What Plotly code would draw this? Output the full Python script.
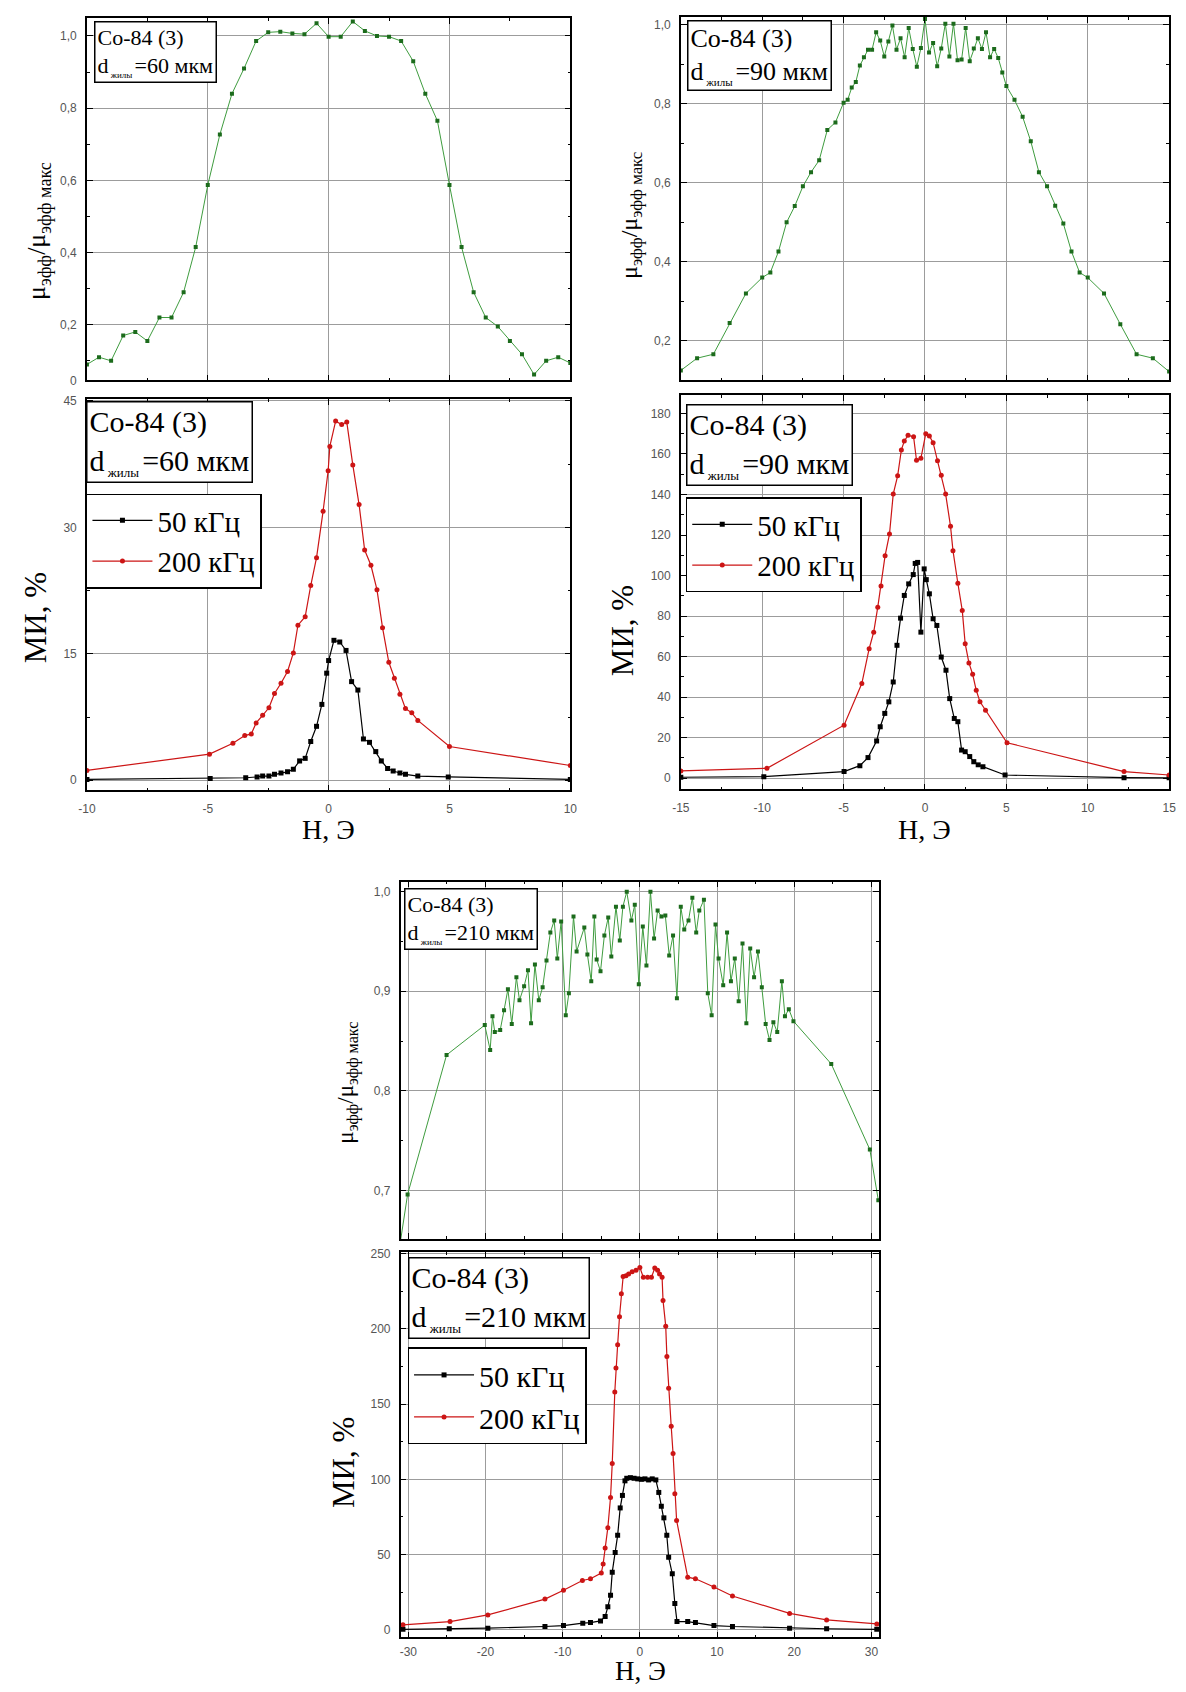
import plotly.graph_objects as go

W, H = 1186, 1692
SERIF = "Liberation Serif, Times New Roman, serif"
SANS = "Liberation Sans, Arial, sans-serif"

# ---------------- data ----------------
# Panel A: mu_eff / mu_eff max, d = 60 um
A_H = [-10, -9.5, -9.0, -8.5, -8.0, -7.5, -7.0, -6.5, -6.0, -5.5,
       -5.0, -4.5, -4.0, -3.5, -3.0, -2.5, -2.0, -1.5, -1.0, -0.5,
       0.0, 0.5, 1.0, 1.5, 2.0, 2.5, 3.0, 3.5, 4.0, 4.5,
       5.0, 5.5, 6.0, 6.5, 7.0, 7.5, 8.0, 8.5, 9.0, 9.5, 10.0]
A_MU = [0.09, 0.11, 0.10, 0.17, 0.18, 0.155, 0.22, 0.22, 0.29, 0.415,
        0.587, 0.727, 0.84, 0.91, 0.986, 1.01, 1.012, 1.007, 1.005, 1.035,
        0.998, 0.998, 1.04, 1.014, 1.0, 0.998, 0.986, 0.93, 0.84, 0.765,
        0.587, 0.415, 0.29, 0.22, 0.195, 0.155, 0.118, 0.062, 0.10, 0.11, 0.094]

# Panel B: MI %, d = 60 um
B_50_H = [-10, -4.9, -3.43, -2.96, -2.73, -2.47, -2.24, -1.97, -1.7, -1.46,
          -1.2, -0.97, -0.74, -0.5, -0.28, -0.08, 0.0, 0.22, 0.46, 0.72,
          0.95, 1.21, 1.44, 1.69, 1.95, 2.18, 2.44, 2.67, 2.95, 3.18,
          3.69, 4.95, 10.0]
B_50_MI = [0.1, 0.2, 0.3, 0.4, 0.5, 0.5, 0.7, 0.85, 1.0, 1.3,
           2.3, 2.6, 4.6, 6.4, 9.0, 12.7, 14.2, 16.6, 16.4, 15.4,
           11.7, 10.7, 4.9, 4.5, 3.4, 2.3, 1.4, 1.1, 0.86, 0.7,
           0.5, 0.4, 0.1]
B_200_H = [-10, -4.93, -3.96, -3.47, -3.2, -3.0, -2.73, -2.47, -2.24, -1.97,
           -1.7, -1.46, -1.27, -0.97, -0.74, -0.5, -0.23, -0.02, 0.05, 0.29,
           0.54, 0.75, 1.0, 1.26, 1.49, 1.75, 2.0, 2.23, 2.49, 2.72,
           2.95, 3.18, 3.44, 3.69, 5.0, 10.0]
B_200_MI = [1.17, 3.1, 4.4, 5.3, 5.5, 6.8, 7.7, 8.6, 10.3, 11.5,
            12.9, 15.1, 18.4, 19.4, 23.1, 26.4, 31.9, 36.7, 39.6, 42.6,
            42.2, 42.5, 37.4, 32.7, 27.3, 25.5, 22.6, 18.1, 14.0, 12.1,
            10.2, 8.5, 8.0, 7.1, 4.0, 1.75]

# Panel C: mu_eff / mu_eff max, d = 90 um
C_H = [-15, -14, -13, -12, -11, -10, -9.5, -9, -8.5, -8,
       -7.5, -7, -6.5, -6, -5.5, -5, -4.75, -4.5, -4.25, -4,
       -3.75, -3.5, -3.25, -3, -2.75, -2.5, -2.25, -2, -1.75, -1.5,
       -1.25, -1, -0.75, -0.5, -0.25, 0, 0.25, 0.5, 0.75, 1,
       1.25, 1.5, 1.75, 2, 2.25, 2.5, 2.75, 3, 3.25, 3.5,
       3.75, 4, 4.25, 4.5, 4.75, 5, 5.5, 6, 6.5, 7,
       7.5, 8, 8.5, 9, 9.5, 10, 11, 12, 13, 14, 15]
C_MU = [0.125, 0.156, 0.166, 0.245, 0.32, 0.36, 0.373, 0.426, 0.5, 0.541,
        0.591, 0.627, 0.657, 0.734, 0.753, 0.803, 0.81, 0.841, 0.855, 0.897,
        0.918, 0.937, 0.937, 0.981, 0.96, 0.92, 0.958, 0.998, 0.937, 0.966,
        0.918, 0.992, 0.939, 0.894, 0.941, 1.015, 0.93, 0.954, 0.895, 0.94,
        1.003, 0.92, 1.003, 0.91, 0.912, 0.992, 0.908, 0.94, 0.966, 0.939,
        0.981, 0.918, 0.939, 0.916, 0.879, 0.845, 0.81, 0.767, 0.705, 0.627,
        0.591, 0.542, 0.497, 0.426, 0.373, 0.36, 0.32, 0.242, 0.166, 0.156, 0.122]

# Panel D: MI %, d = 90 um
D_50_H = [-15, -9.9, -4.97, -4.0, -3.5, -2.97, -2.75, -2.47, -2.22, -1.95,
          -1.72, -1.5, -1.27, -1.0, -0.72, -0.6, -0.45, -0.25, -0.05, 0.08,
          0.27, 0.5, 0.73, 1.0, 1.29, 1.52, 1.8, 2.02, 2.25, 2.47,
          2.75, 3.0, 3.27, 3.56, 4.92, 12.23, 15]
D_50_MI = [0.5, 0.8, 3.3, 6.2, 10.2, 18.4, 25.4, 32, 37.7, 47.5,
           65.6, 79, 90.2, 95.9, 100.5, 106, 106.5, 72.1, 103.3, 98,
           91, 78.7, 75.4, 59.8, 53.3, 39.3, 29.5, 27.9, 13.9, 13.1,
           10.7, 8.2, 6.6, 5.7, 1.6, 0.3, 0.2]
D_200_H = [-15, -9.71, -4.97, -3.88, -3.43, -3.15, -2.9, -2.7, -2.45, -2.18,
           -1.95, -1.68, -1.45, -1.27, -1.04, -0.7, -0.52, -0.25, 0.05, 0.27,
           0.5, 0.77, 1.0, 1.27, 1.57, 1.72, 2.02, 2.29, 2.47, 2.7,
           2.93, 3.15, 3.38, 3.72, 5.04, 12.23, 15]
D_200_MI = [3.6, 4.9, 26.2, 46.7, 63.9, 72.1, 84.4, 94.8, 109.8, 120.5,
            140.2, 149.2, 162, 166.4, 169.2, 168.5, 156.9, 157.9, 170, 168.9,
            165.6, 156.6, 149.5, 140.2, 124.3, 112.3, 96.2, 82.8, 66.4, 56.9,
            51.3, 43.4, 37.7, 33.6, 17.5, 3.3, 1.6]

# Panel E: mu_eff / mu_eff max, d = 210 um
E_H = [-31.2, -30.1, -25.05, -20.1, -19.4, -19.1, -18.8, -18.1, -17.6, -17.1,
       -16.6, -16.0, -15.6, -15.0, -14.5, -14.1, -13.6, -13.1, -12.6, -12.1,
       -11.6, -11.1, -10.7, -10.2, -9.6, -9.2, -8.6, -8.2, -7.2, -6.8,
       -6.3, -5.9, -5.6, -5.1, -4.6, -4.1, -3.7, -3.1, -2.6, -2.2,
       -1.7, -1.1, -0.66, -0.14, 0.38, 0.85, 1.37, 1.84, 2.3, 2.8,
       3.3, 3.8, 4.3, 4.8, 5.3, 5.75, 6.3, 6.8, 7.3, 7.7,
       8.3, 8.8, 9.3, 9.8, 10.2, 10.8, 11.3, 11.8, 12.3, 12.8,
       13.3, 13.8, 14.3, 14.8, 15.3, 15.8, 16.3, 16.8, 17.3, 17.8,
       18.4, 18.8, 19.3, 19.9, 24.8, 29.8, 30.9]
E_MU = [0.64, 0.696, 0.836, 0.866, 0.841, 0.875, 0.859, 0.861, 0.881, 0.902,
        0.867, 0.914, 0.891, 0.905, 0.921, 0.868, 0.927, 0.891, 0.904, 0.931,
        0.959, 0.971, 0.933, 0.97, 0.876, 0.898, 0.975, 0.94, 0.964, 0.937,
        0.91, 0.975, 0.932, 0.92, 0.956, 0.974, 0.935, 0.985, 0.951, 0.985,
        1.0, 0.971, 0.987, 0.907, 0.965, 0.926, 1.0, 0.953, 0.981, 0.975,
        0.976, 0.936, 0.956, 0.893, 0.985, 0.962, 0.971, 0.994, 0.959, 0.981,
        0.992, 0.898, 0.876, 0.967, 0.933, 0.906, 0.959, 0.91, 0.933, 0.89,
        0.948, 0.868, 0.943, 0.914, 0.94, 0.904, 0.867, 0.851, 0.869, 0.859,
        0.91, 0.875, 0.882, 0.87, 0.827, 0.741, 0.69]

# Panel F: MI %, d = 210 um
F_50_H = [-30.7, -24.7, -19.7, -12.3, -9.9, -7.4, -6.4, -5.1, -4.5, -4.15,
          -3.8, -3.58, -3.2, -2.88, -2.55, -2.26, -1.93, -1.7, -1.23, -0.75,
          -0.28, 0.19, 0.66, 1.13, 1.6, 2.07, 2.45, 2.78, 3.11, 3.49,
          3.73, 4.2, 4.53, 4.81, 6.2, 7.2, 9.6, 12.0, 19.4, 24.2, 30.7]
F_50_MI = [0.3, 0.7, 1.1, 2.2, 2.8, 4.4, 4.8, 5.9, 8.8, 15.3,
           23, 38.3, 51.4, 62.8, 81, 89.3, 99, 100.7, 101.1, 100.7,
           100.3, 100, 100.3, 99.6, 100.3, 99.6, 91.3, 82.1, 74.4, 62.8,
           48.2, 37.2, 17.5, 5.5, 5.5, 4.8, 2.8, 2.2, 1.1, 0.7, 0.3]
F_200_H = [-30.7, -24.6, -19.7, -12.3, -9.9, -7.45, -6.4, -5.0, -4.76, -4.5,
           -4.15, -3.8, -3.58, -3.25, -3.1, -2.88, -2.64, -2.4, -2.17, -1.8,
           -1.46, -1.0, -0.5, 0.0, 0.45, 1.0, 1.5, 1.93, 2.3, 2.55,
           2.88, 3.0, 3.35, 3.5, 3.73, 4.06, 4.3, 4.53, 4.76, 6.2,
           7.2, 9.6, 12.0, 19.4, 24.2, 30.7]
F_200_MI = [3.3, 5.5, 9.9, 20.4, 26.3, 32.8, 33.9, 37.7, 43.8, 54.3,
            67.9, 88, 110.5, 158, 174, 189.4, 208, 223.3, 234.7, 235.3,
            236.4, 238, 239, 240.8, 234.2, 234.2, 234.2, 240.4, 239, 236.4,
            234.2, 218.9, 201.8, 181.7, 160.5, 135.3, 117.1, 90.4, 72.7, 35,
            33.9, 28.5, 22.5, 10.9, 6.6, 3.9]

SERIES_NAMES = ["50 кГц", "200 кГц"]
SAMPLE = "Co-84 (3)"
DIAMS = ["60", "90", "210"]

# tick labels
X10_VALS = [-10, -5, 0, 5, 10]
X10_TEXT = ["-10", "-5", "0", "5", "10"]
X15_VALS = [-15, -10, -5, 0, 5, 10, 15]
X15_TEXT = ["-15", "-10", "-5", "0", "5", "10", "15"]
X30_VALS = [-30, -20, -10, 0, 10, 20, 30]
X30_TEXT = ["-30", "-20", "-10", "0", "10", "20", "30"]
YA_VALS = [0.046, 0.2, 0.4, 0.6, 0.8, 1.0]
YA_TEXT = ["0", "0,2", "0,4", "0,6", "0,8", "1,0"]
YC_VALS = [0.2, 0.4, 0.6, 0.8, 1.0]
YC_TEXT = ["0,2", "0,4", "0,6", "0,8", "1,0"]
YE_VALS = [0.7, 0.8, 0.9, 1.0]
YE_TEXT = ["0,7", "0,8", "0,9", "1,0"]
YB_VALS = [0, 15, 30, 45]
YD_VALS = [0, 20, 40, 60, 80, 100, 120, 140, 160, 180]
YF_VALS = [0, 50, 100, 150, 200, 250]

# ---------------- layout helpers ----------------
BOX = {1: (79, 569, 13, 378), 2: (79, 569, 397, 791),
       3: (681, 1176, 12, 378), 4: (681, 1176, 393, 790),
       5: (397, 882, 883, 1243), 6: (397, 882, 1256, 1644)}


def px(x):
    return x / W


def py(y):
    return 1 - y / H


def axis(i, kind, rng, vals, text, m0, mdt, labels, standoff=6):
    l, r, t, b = BOX[i]
    dom = [px(l), px(r)] if kind == "x" else [py(b), py(t)]
    return dict(domain=dom, range=rng, tickmode="array", tickvals=vals,
                ticktext=text if text else [str(v) for v in vals],
                showticklabels=labels, ticks="inside", ticklen=6, tickwidth=1,
                tickcolor="black", showline=True, linewidth=1.5,
                linecolor="black", mirror="ticks", showgrid=True,
                gridcolor="#9c9c9c", gridwidth=1, zeroline=False,
                minor=dict(tickmode="linear", tick0=m0, dtick=mdt,
                           ticks="inside", ticklen=3, tickcolor="black",
                           showgrid=False),
                tickfont=dict(family=SANS, size=12, color="#555555"),
                ticklabelstandoff=standoff, fixedrange=True)


GREEN_M = "#1c6b1c"
GREEN_L = "#3f9c3f"
RED = "#cc1515"

fig = go.Figure()


def green(x, y, n):
    fig.add_trace(go.Scatter(x=x, y=y, mode="lines+markers", showlegend=False,
                             xaxis="x" + ("" if n == 1 else str(n)),
                             yaxis="y" + ("" if n == 1 else str(n)),
                             line=dict(color=GREEN_L, width=1),
                             marker=dict(symbol="square", size=4, color=GREEN_M)))


def mi(x50, y50, x200, y200, n, leg, msize):
    xa = "x" + str(n)
    ya = "y" + str(n)
    fig.add_trace(go.Scatter(x=x50, y=y50, mode="lines+markers", name=SERIES_NAMES[0],
                             xaxis=xa, yaxis=ya, legend=leg,
                             line=dict(color="black", width=1.2),
                             marker=dict(symbol="square", size=msize, color="black")))
    fig.add_trace(go.Scatter(x=x200, y=y200, mode="lines+markers", name=SERIES_NAMES[1],
                             xaxis=xa, yaxis=ya, legend=leg,
                             line=dict(color=RED, width=1.2),
                             marker=dict(symbol="circle", size=msize, color=RED)))


green(A_H, A_MU, 1)
mi(B_50_H, B_50_MI, B_200_H, B_200_MI, 2, "legend", 5)
green(C_H, C_MU, 3)
mi(D_50_H, D_50_MI, D_200_H, D_200_MI, 4, "legend2", 5)
green(E_H, E_MU, 5)
mi(F_50_H, F_50_MI, F_200_H, F_200_MI, 6, "legend3", 5)

layout = dict(width=W, height=H, autosize=False,
              margin=dict(l=0, r=0, t=0, b=0),
              paper_bgcolor="white", plot_bgcolor="white",
              font=dict(family=SERIF, color="black"))

# axes
layout["xaxis"] = axis(1, "x", [-10, 10], X10_VALS, X10_TEXT, -10, 2.5, False)
layout["yaxis"] = axis(1, "y", [0.046, 1.05], YA_VALS, YA_TEXT, 0, 0.1, True)
layout["xaxis2"] = axis(2, "x", [-10, 10], X10_VALS, X10_TEXT, -10, 2.5, True)
layout["yaxis2"] = axis(2, "y", [-1.2, 45.2], YB_VALS, None, 0, 7.5, True)
layout["xaxis3"] = axis(3, "x", [-15, 15], X15_VALS, X15_TEXT, -15, 2.5, False)
layout["yaxis3"] = axis(3, "y", [0.1, 1.02], YC_VALS, YC_TEXT, 0, 0.1, True)
layout["xaxis4"] = axis(4, "x", [-15, 15], X15_VALS, X15_TEXT, -15, 2.5, True)
layout["yaxis4"] = axis(4, "y", [-5.5, 189], YD_VALS, None, 0, 10, True)
layout["xaxis5"] = axis(5, "x", [-31, 31], X30_VALS, X30_TEXT, -30, 5, False)
layout["yaxis5"] = axis(5, "y", [0.651, 1.01], YE_VALS, YE_TEXT, 0.65, 0.05, True)
layout["xaxis6"] = axis(6, "x", [-31, 31], X30_VALS, X30_TEXT, -30, 5, True, standoff=3)
layout["yaxis6"] = axis(6, "y", [-5, 251], YF_VALS, None, 0, 25, True)
for n in range(1, 7):
    s = "" if n == 1 else str(n)
    layout["xaxis" + s]["anchor"] = "y" + s
    layout["yaxis" + s]["anchor"] = "x" + s


def legend_at(x, y, size):
    return dict(x=px(x), y=py(y), xanchor="left", yanchor="top",
                bgcolor="white", bordercolor="black", borderwidth=1.5,
                font=dict(family=SERIF, size=size, color="black"),
                itemwidth=60, tracegroupgap=0)


layout["legend"] = legend_at(78, 492, 29)
layout["legend2"] = legend_at(686, 496, 29)
layout["legend3"] = legend_at(404, 1352, 30)

fig.update_layout(**layout)


# text boxes
def info(x, y, d, size, subsize):
    fig.add_annotation(xref="paper", yref="paper", x=px(x), y=py(y),
                       xanchor="left", yanchor="top", align="left", showarrow=False,
                       text=(SAMPLE + "<br>d<sub><span style='font-size:%dpx'>&nbsp;жилы&nbsp;</span></sub>=%s мкм"
                             % (subsize, d)),
                       font=dict(family=SERIF, size=size, color="black"),
                       bgcolor="white", bordercolor="black", borderwidth=1.5, borderpad=2)


info(86, 16, DIAMS[0], 22, 9)
info(78, 399, DIAMS[0], 30, 13)
info(687, 15, DIAMS[1], 26, 11)
info(686, 402, DIAMS[1], 30, 13)
info(400, 889, DIAMS[2], 22, 9)
info(404, 1261, DIAMS[2], 30, 13)

MU_TITLE = "μ<sub>эфф</sub>/μ<sub>эфф макс</sub>"


def ytitle(x, y, text, size):
    fig.add_annotation(xref="paper", yref="paper", x=px(x), y=py(y),
                       xanchor="center", yanchor="middle", showarrow=False,
                       textangle=-90, text=text,
                       font=dict(family=SERIF, size=size, color="black"))


def xtitle(x, y, text, size):
    fig.add_annotation(xref="paper", yref="paper", x=px(x), y=py(y),
                       xanchor="center", yanchor="middle", showarrow=False,
                       text=text, font=dict(family=SERIF, size=size, color="black"))


ytitle(30, 228, MU_TITLE, 26)
ytitle(631, 212, MU_TITLE, 24)
ytitle(343, 1085, MU_TITLE, 23)
ytitle(27, 617, "МИ, %", 31)
ytitle(622, 630, "МИ, %", 31)
ytitle(339, 1468, "МИ, %", 31)
xtitle(324, 830, "H, Э", 28)
xtitle(928, 830, "H, Э", 28)
xtitle(640, 1678, "H, Э", 27)

fig.write_html("out.html", config={"displayModeBar": False},
               post_script="document.body.style.margin='0';document.body.style.overflow='hidden';")
